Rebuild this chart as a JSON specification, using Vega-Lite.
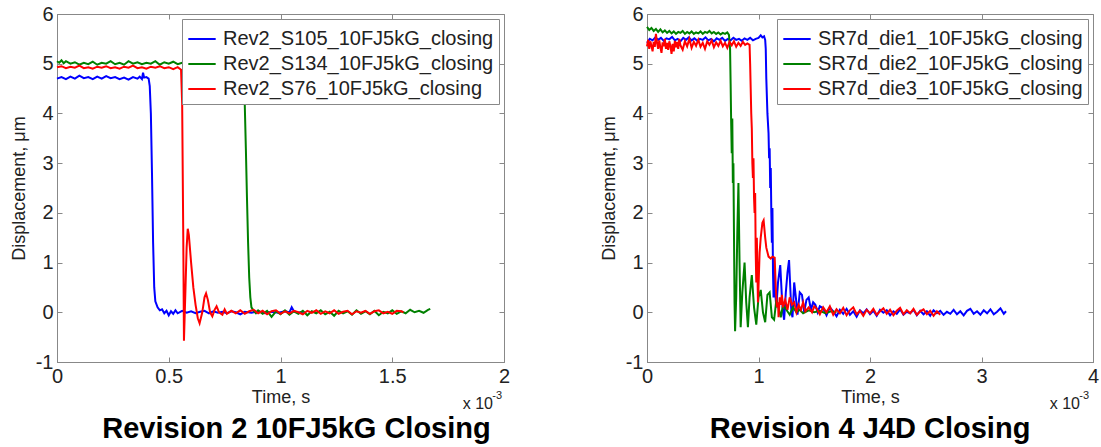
{
"$schema":"https://vega.github.io/schema/vega-lite/v6.json",
"background":"white",
"padding":{"left":9,"top":3,"right":5,"bottom":0},
"spacing":88,
"resolve":{"scale":{"color":"independent"},"legend":{"color":"independent"}},
"config":{
 "font":"Liberation Sans",
 "view":{"stroke":"#888","strokeWidth":1},
 "axis":{"grid":false,"domainColor":"#888","tickColor":"#888","tickSize":-5,"labelFontSize":20,"labelColor":"#222","labelFont":"Liberation Sans","titleFont":"Liberation Sans","titleFontSize":18,"titleFontWeight":"normal","titleColor":"#222","labelPadding":9,"labelFlush":false,"labelOverlap":false},
 "legend":{"orient":"top-right","offset":5,"strokeColor":"#888","fillColor":"white","padding":5,"symbolType":"stroke","symbolSize":750,"symbolStrokeWidth":2,"labelFontSize":20,"labelFont":"Liberation Sans","labelColor":"#222","rowPadding":0,"labelOffset":6,"cornerRadius":0,"labelLimit":400},
 "title":{"font":"Liberation Sans","fontSize":29,"fontWeight":"bold","color":"black"}
},
"hconcat":[
{
 "width":447,"height":348,
 "title":{"text":"Revision 2 10FJ5kG Closing","orient":"bottom","offset":3,"dx":16},
 "resolve":{"axis":{"x":"independent","y":"independent"}},
 "layer":[
  {"data":{"values":[
{"t":0,"v":4.70},{"t":0.02,"v":4.73},{"t":0.04,"v":4.69},{"t":0.06,"v":4.74},{"t":0.08,"v":4.70},{"t":0.10,"v":4.76},{"t":0.12,"v":4.71},{"t":0.14,"v":4.73},{"t":0.16,"v":4.69},{"t":0.18,"v":4.74},{"t":0.20,"v":4.70},{"t":0.22,"v":4.75},{"t":0.24,"v":4.71},{"t":0.26,"v":4.73},{"t":0.28,"v":4.69},{"t":0.30,"v":4.72},{"t":0.32,"v":4.68},{"t":0.34,"v":4.73},{"t":0.36,"v":4.70},{"t":0.37,"v":4.74},{"t":0.38,"v":4.69},{"t":0.385,"v":4.82},{"t":0.39,"v":4.72},{"t":0.40,"v":4.73},{"t":0.41,"v":4.70},{"t":0.415,"v":4.55},{"t":0.42,"v":4.0},{"t":0.425,"v":2.8},{"t":0.43,"v":1.4},{"t":0.435,"v":0.5},{"t":0.44,"v":0.22},{"t":0.45,"v":0.1},{"t":0.46,"v":0.04},{"t":0.47,"v":0.06},{"t":0.48,"v":-0.02},{"t":0.49,"v":0.03},{"t":0.50,"v":-0.06},{"t":0.51,"v":0.02},{"t":0.52,"v":-0.03},{"t":0.53,"v":0.04},{"t":0.54,"v":-0.02},{"t":0.56,"v":0.03},{"t":0.58,"v":-0.01},{"t":0.60,"v":0.02},{"t":0.62,"v":-0.02},{"t":0.64,"v":0.01},{"t":0.66,"v":0.03},{"t":0.68,"v":-0.02},{"t":0.70,"v":0.02},{"t":0.72,"v":-0.01},{"t":0.74,"v":0.01},{"t":0.76,"v":-0.02},{"t":0.78,"v":0.02},{"t":0.80,"v":0.0},{"t":0.82,"v":-0.04},{"t":0.84,"v":0.01},{"t":0.87,"v":-0.01},{"t":0.90,"v":0.02},{"t":0.93,"v":-0.02},{"t":0.96,"v":0.01},{"t":0.99,"v":-0.01},{"t":1.02,"v":0.02},{"t":1.04,"v":0.0},{"t":1.05,"v":0.1},{"t":1.06,"v":0.02},{"t":1.08,"v":-0.01},{"t":1.10,"v":0.01}
  ]},
  "mark":{"type":"line","strokeWidth":2},
  "encoding":{
   "x":{"field":"t","type":"quantitative","scale":{"domain":[0,2],"nice":false,"zero":false},"axis":{"orient":"bottom","values":[0,0.5,1,1.5,2],"title":"Time, s","labelExpr":"''+datum.value","titlePadding":2}},
   "y":{"field":"v","type":"quantitative","scale":{"domain":[-1,6],"nice":false,"zero":false},"axis":{"orient":"left","values":[-1,0,1,2,3,4,5,6],"title":"Displacement, μm","labelExpr":"''+datum.value","titlePadding":7}},
   "color":{"datum":"Rev2_S105_10FJ5kG_closing","type":"nominal","scale":{"domain":["Rev2_S105_10FJ5kG_closing","Rev2_S134_10FJ5kG_closing","Rev2_S76_10FJ5kG_closing"],"range":["#0000ff","#008000","#ff0000"]},"legend":{"title":null}}
  }},
  {"data":{"values":[
{"t":0,"v":5.05},{"t":0.01,"v":5.02},{"t":0.02,"v":5.07},{"t":0.03,"v":5.01},{"t":0.04,"v":5.05},{"t":0.06,"v":5.00},{"t":0.08,"v":5.03},{"t":0.10,"v":4.98},{"t":0.12,"v":5.02},{"t":0.14,"v":4.99},{"t":0.16,"v":5.04},{"t":0.18,"v":4.98},{"t":0.20,"v":5.02},{"t":0.22,"v":5.00},{"t":0.24,"v":5.05},{"t":0.26,"v":4.99},{"t":0.28,"v":5.02},{"t":0.30,"v":4.98},{"t":0.32,"v":5.05},{"t":0.34,"v":5.00},{"t":0.36,"v":5.03},{"t":0.38,"v":4.99},{"t":0.40,"v":5.02},{"t":0.42,"v":5.00},{"t":0.44,"v":5.05},{"t":0.46,"v":4.98},{"t":0.48,"v":5.03},{"t":0.50,"v":5.00},{"t":0.52,"v":5.04},{"t":0.54,"v":4.99},{"t":0.56,"v":5.02},{"t":0.60,"v":5.00},{"t":0.65,"v":5.02},{"t":0.70,"v":4.99},{"t":0.75,"v":5.01},{"t":0.80,"v":5.00},{"t":0.83,"v":4.98},{"t":0.835,"v":4.7},{"t":0.84,"v":4.2},{"t":0.845,"v":3.3},{"t":0.85,"v":2.3},{"t":0.855,"v":1.4},{"t":0.86,"v":0.7},{"t":0.865,"v":0.3},{"t":0.87,"v":0.1},{"t":0.88,"v":0.03},{"t":0.89,"v":-0.02},{"t":0.90,"v":0.04},{"t":0.92,"v":-0.03},{"t":0.94,"v":0.03},{"t":0.96,"v":-0.09},{"t":0.98,"v":0.02},{"t":1.00,"v":-0.04},{"t":1.02,"v":0.04},{"t":1.04,"v":-0.05},{"t":1.06,"v":0.02},{"t":1.08,"v":-0.03},{"t":1.10,"v":0.03},{"t":1.12,"v":-0.06},{"t":1.14,"v":0.02},{"t":1.16,"v":-0.02},{"t":1.18,"v":0.04},{"t":1.20,"v":-0.04},{"t":1.22,"v":0.01},{"t":1.24,"v":-0.07},{"t":1.26,"v":0.03},{"t":1.28,"v":-0.02},{"t":1.30,"v":0.02},{"t":1.32,"v":-0.05},{"t":1.34,"v":0.04},{"t":1.36,"v":-0.03},{"t":1.38,"v":0.02},{"t":1.40,"v":-0.04},{"t":1.42,"v":0.03},{"t":1.44,"v":-0.06},{"t":1.46,"v":0.01},{"t":1.48,"v":-0.02},{"t":1.50,"v":0.04},{"t":1.52,"v":-0.03},{"t":1.54,"v":0.02},{"t":1.56,"v":-0.02},{"t":1.58,"v":0.05},{"t":1.60,"v":0.0},{"t":1.62,"v":0.03},{"t":1.64,"v":-0.01},{"t":1.66,"v":0.05},{"t":1.67,"v":0.07}
  ]},
  "mark":{"type":"line","strokeWidth":2},
  "encoding":{
   "x":{"field":"t","type":"quantitative","axis":{"orient":"top","values":[0,0.5,1,1.5,2],"labels":false,"title":null,"domain":false}},
   "y":{"field":"v","type":"quantitative","axis":{"orient":"right","values":[-1,0,1,2,3,4,5,6],"labels":false,"title":null,"domain":false}},
   "color":{"datum":"Rev2_S134_10FJ5kG_closing","type":"nominal"}
  }},
  {"data":{"values":[
{"t":0,"v":4.93},{"t":0.02,"v":4.95},{"t":0.04,"v":4.91},{"t":0.06,"v":4.94},{"t":0.08,"v":4.92},{"t":0.10,"v":4.96},{"t":0.12,"v":4.91},{"t":0.14,"v":4.93},{"t":0.16,"v":4.90},{"t":0.18,"v":4.94},{"t":0.20,"v":4.92},{"t":0.22,"v":4.95},{"t":0.24,"v":4.91},{"t":0.26,"v":4.93},{"t":0.28,"v":4.90},{"t":0.30,"v":4.94},{"t":0.32,"v":4.92},{"t":0.34,"v":4.96},{"t":0.36,"v":4.91},{"t":0.38,"v":4.93},{"t":0.40,"v":4.90},{"t":0.42,"v":4.94},{"t":0.44,"v":4.92},{"t":0.46,"v":4.95},{"t":0.48,"v":4.91},{"t":0.50,"v":4.93},{"t":0.52,"v":4.89},{"t":0.54,"v":4.93},{"t":0.555,"v":4.88},{"t":0.56,"v":4.2},{"t":0.565,"v":1.5},{"t":0.568,"v":-0.57},{"t":0.575,"v":0.5},{"t":0.58,"v":1.3},{"t":0.585,"v":1.68},{"t":0.59,"v":1.55},{"t":0.60,"v":1.0},{"t":0.61,"v":0.5},{"t":0.62,"v":0.15},{"t":0.63,"v":-0.12},{"t":0.638,"v":-0.22},{"t":0.65,"v":0.0},{"t":0.66,"v":0.3},{"t":0.667,"v":0.38},{"t":0.675,"v":0.25},{"t":0.685,"v":0.0},{"t":0.695,"v":-0.08},{"t":0.705,"v":0.05},{"t":0.714,"v":0.12},{"t":0.725,"v":0.0},{"t":0.74,"v":-0.05},{"t":0.75,"v":0.06},{"t":0.76,"v":-0.03},{"t":0.78,"v":0.03},{"t":0.80,"v":-0.02},{"t":0.82,"v":0.04},{"t":0.84,"v":-0.03},{"t":0.86,"v":0.02},{"t":0.88,"v":0.05},{"t":0.90,"v":-0.02},{"t":0.92,"v":0.03},{"t":0.94,"v":-0.04},{"t":0.96,"v":0.02},{"t":0.98,"v":0.04},{"t":1.00,"v":-0.03},{"t":1.02,"v":0.02},{"t":1.04,"v":-0.02},{"t":1.06,"v":0.03},{"t":1.08,"v":0.0},{"t":1.10,"v":-0.04},{"t":1.12,"v":0.03},{"t":1.14,"v":-0.01},{"t":1.16,"v":0.04},{"t":1.18,"v":-0.03},{"t":1.20,"v":0.02},{"t":1.22,"v":-0.02},{"t":1.24,"v":0.04},{"t":1.26,"v":-0.03},{"t":1.28,"v":0.01},{"t":1.30,"v":0.03},{"t":1.32,"v":-0.04},{"t":1.34,"v":0.02},{"t":1.36,"v":-0.01},{"t":1.38,"v":0.03},{"t":1.40,"v":-0.03},{"t":1.42,"v":0.02},{"t":1.44,"v":0.04},{"t":1.46,"v":-0.02},{"t":1.48,"v":0.01},{"t":1.50,"v":-0.03},{"t":1.52,"v":0.03},{"t":1.54,"v":0.02},{"t":1.55,"v":0.0}
  ]},
  "mark":{"type":"line","strokeWidth":2},
  "encoding":{
   "x":{"field":"t","type":"quantitative","axis":null},
   "y":{"field":"v","type":"quantitative","axis":null},
   "color":{"datum":"Rev2_S76_10FJ5kG_closing","type":"nominal"}
  }},
  {"data":{"values":[{}]},
   "mark":{"type":"text","text":"x 10","align":"right","baseline":"middle","dx":-11,"dy":42,"fontSize":16,"color":"#222"},
   "encoding":{"x":{"datum":2,"type":"quantitative","axis":null},"y":{"datum":-1,"type":"quantitative","axis":null}}},
  {"data":{"values":[{}]},
   "mark":{"type":"text","text":"-3","align":"right","baseline":"middle","dx":-2,"dy":34,"fontSize":11,"color":"#222"},
   "encoding":{"x":{"datum":2,"type":"quantitative","axis":null},"y":{"datum":-1,"type":"quantitative","axis":null}}}
 ]
},
{
 "width":446,"height":348,
 "title":{"text":"Revision 4 J4D Closing","orient":"bottom","offset":3},
 "resolve":{"axis":{"x":"independent","y":"independent"}},
 "layer":[
  {"data":{"values":[
{"t":0,"v":5.42},{"t":0.025,"v":5.5},{"t":0.05,"v":5.47},{"t":0.075,"v":5.53},{"t":0.1,"v":5.48},{"t":0.125,"v":5.52},{"t":0.15,"v":5.46},{"t":0.175,"v":5.51},{"t":0.2,"v":5.49},{"t":0.225,"v":5.54},{"t":0.25,"v":5.47},{"t":0.275,"v":5.5},{"t":0.3,"v":5.45},{"t":0.325,"v":5.52},{"t":0.35,"v":5.48},{"t":0.375,"v":5.53},{"t":0.4,"v":5.47},{"t":0.425,"v":5.51},{"t":0.45,"v":5.46},{"t":0.475,"v":5.5},{"t":0.5,"v":5.48},{"t":0.525,"v":5.53},{"t":0.55,"v":5.47},{"t":0.575,"v":5.5},{"t":0.6,"v":5.45},{"t":0.625,"v":5.51},{"t":0.65,"v":5.48},{"t":0.675,"v":5.52},{"t":0.7,"v":5.46},{"t":0.725,"v":5.5},{"t":0.75,"v":5.47},{"t":0.775,"v":5.52},{"t":0.8,"v":5.48},{"t":0.825,"v":5.5},{"t":0.85,"v":5.46},{"t":0.875,"v":5.51},{"t":0.9,"v":5.48},{"t":0.925,"v":5.52},{"t":0.95,"v":5.47},{"t":0.975,"v":5.5},{"t":1.0,"v":5.52},{"t":1.02,"v":5.57},{"t":1.035,"v":5.53},{"t":1.05,"v":5.55},{"t":1.06,"v":5.48},{"t":1.065,"v":5.3},{"t":1.07,"v":4.7},{"t":1.08,"v":4.0},{"t":1.09,"v":3.6},{"t":1.095,"v":3.1},{"t":1.10,"v":3.3},{"t":1.105,"v":2.5},{"t":1.11,"v":2.9},{"t":1.115,"v":2.0},{"t":1.12,"v":1.4},{"t":1.125,"v":2.1},{"t":1.13,"v":0.8},{"t":1.135,"v":0.3},{"t":1.14,"v":1.1},{"t":1.15,"v":0.4},{"t":1.16,"v":0.1},{"t":1.175,"v":0.6},{"t":1.195,"v":0.95},{"t":1.21,"v":0.3},{"t":1.22,"v":0.0},{"t":1.23,"v":-0.15},{"t":1.245,"v":0.4},{"t":1.26,"v":0.8},{"t":1.274,"v":1.05},{"t":1.285,"v":0.5},{"t":1.295,"v":0.0},{"t":1.305,"v":-0.1},{"t":1.32,"v":0.6},{"t":1.335,"v":0.3},{"t":1.35,"v":-0.05},{"t":1.37,"v":0.4},{"t":1.39,"v":0.35},{"t":1.41,"v":0.0},{"t":1.43,"v":0.25},{"t":1.45,"v":0.3},{"t":1.47,"v":0.05},{"t":1.49,"v":0.2},{"t":1.51,"v":0.15},{"t":1.53,"v":0.0},{"t":1.55,"v":0.12},{"t":1.58,"v":0.08},{"t":1.61,"v":-0.06},{"t":1.64,"v":0.1},{"t":1.67,"v":0.02},{"t":1.70,"v":-0.08},{"t":1.73,"v":0.05},{"t":1.76,"v":-0.03},{"t":1.79,"v":0.07},{"t":1.82,"v":-0.05},{"t":1.85,"v":0.02},{"t":1.88,"v":-0.09},{"t":1.91,"v":0.04},{"t":1.94,"v":-0.02},{"t":1.97,"v":0.06},{"t":2.00,"v":-0.04},{"t":2.03,"v":0.03},{"t":2.06,"v":-0.07},{"t":2.09,"v":0.05},{"t":2.12,"v":-0.01},{"t":2.15,"v":0.04},{"t":2.18,"v":-0.06},{"t":2.21,"v":0.02},{"t":2.24,"v":-0.03},{"t":2.27,"v":0.06},{"t":2.30,"v":-0.05},{"t":2.33,"v":0.01},{"t":2.36,"v":-0.02},{"t":2.39,"v":0.05},{"t":2.42,"v":-0.06},{"t":2.45,"v":0.03},{"t":2.48,"v":-0.04},{"t":2.51,"v":0.02},{"t":2.54,"v":-0.07},{"t":2.57,"v":0.04},{"t":2.60,"v":-0.02},{"t":2.63,"v":0.03},{"t":2.66,"v":-0.05},{"t":2.69,"v":0.01},{"t":2.72,"v":-0.03},{"t":2.75,"v":0.05},{"t":2.78,"v":-0.04},{"t":2.81,"v":0.02},{"t":2.84,"v":-0.06},{"t":2.87,"v":0.03},{"t":2.90,"v":0.07},{"t":2.93,"v":-0.03},{"t":2.96,"v":0.02},{"t":2.99,"v":-0.05},{"t":3.02,"v":0.04},{"t":3.05,"v":-0.02},{"t":3.08,"v":0.06},{"t":3.11,"v":-0.04},{"t":3.14,"v":0.01},{"t":3.17,"v":0.08},{"t":3.20,"v":-0.03},{"t":3.22,"v":0.02}
  ]},
  "mark":{"type":"line","strokeWidth":2},
  "encoding":{
   "x":{"field":"t","type":"quantitative","scale":{"domain":[0,4],"nice":false,"zero":false},"axis":{"orient":"bottom","values":[0,1,2,3,4],"title":"Time, s","labelExpr":"''+datum.value","titlePadding":2}},
   "y":{"field":"v","type":"quantitative","scale":{"domain":[-1,6],"nice":false,"zero":false},"axis":{"orient":"left","values":[-1,0,1,2,3,4,5,6],"title":"Displacement, μm","labelExpr":"''+datum.value","titlePadding":7}},
   "color":{"datum":"SR7d_die1_10FJ5kG_closing","type":"nominal","scale":{"domain":["SR7d_die1_10FJ5kG_closing","SR7d_die2_10FJ5kG_closing","SR7d_die3_10FJ5kG_closing"],"range":["#0000ff","#008000","#ff0000"]},"legend":{"title":null}}
  }},
  {"data":{"values":[
{"t":0,"v":5.74},{"t":0.02,"v":5.68},{"t":0.04,"v":5.72},{"t":0.06,"v":5.66},{"t":0.08,"v":5.7},{"t":0.1,"v":5.64},{"t":0.12,"v":5.69},{"t":0.14,"v":5.63},{"t":0.16,"v":5.67},{"t":0.18,"v":5.62},{"t":0.2,"v":5.66},{"t":0.22,"v":5.61},{"t":0.24,"v":5.65},{"t":0.26,"v":5.6},{"t":0.28,"v":5.64},{"t":0.3,"v":5.62},{"t":0.32,"v":5.66},{"t":0.34,"v":5.6},{"t":0.36,"v":5.64},{"t":0.38,"v":5.61},{"t":0.4,"v":5.65},{"t":0.42,"v":5.6},{"t":0.44,"v":5.63},{"t":0.46,"v":5.61},{"t":0.48,"v":5.65},{"t":0.5,"v":5.6},{"t":0.52,"v":5.64},{"t":0.54,"v":5.62},{"t":0.56,"v":5.66},{"t":0.58,"v":5.61},{"t":0.6,"v":5.64},{"t":0.62,"v":5.6},{"t":0.64,"v":5.63},{"t":0.66,"v":5.59},{"t":0.68,"v":5.62},{"t":0.7,"v":5.6},{"t":0.72,"v":5.63},{"t":0.735,"v":5.58},{"t":0.745,"v":5.3},{"t":0.75,"v":4.6},{"t":0.755,"v":3.8},{"t":0.76,"v":3.2},{"t":0.765,"v":3.9},{"t":0.77,"v":2.6},{"t":0.775,"v":3.0},{"t":0.78,"v":1.6},{"t":0.785,"v":0.2},{"t":0.79,"v":-0.38},{"t":0.80,"v":0.3},{"t":0.81,"v":1.6},{"t":0.82,"v":2.6},{"t":0.83,"v":1.0},{"t":0.84,"v":-0.3},{"t":0.855,"v":0.4},{"t":0.875,"v":1.0},{"t":0.89,"v":0.2},{"t":0.905,"v":-0.3},{"t":0.92,"v":0.3},{"t":0.94,"v":0.75},{"t":0.96,"v":0.1},{"t":0.98,"v":-0.25},{"t":1.0,"v":0.3},{"t":1.02,"v":0.45},{"t":1.04,"v":0.0},{"t":1.06,"v":-0.2},{"t":1.08,"v":0.35},{"t":1.10,"v":0.4},{"t":1.12,"v":-0.1},{"t":1.14,"v":-0.15},{"t":1.16,"v":0.25},{"t":1.18,"v":0.1},{"t":1.20,"v":-0.1},{"t":1.22,"v":0.15},{"t":1.25,"v":0.05},{"t":1.28,"v":-0.05},{"t":1.31,"v":0.1},{"t":1.34,"v":0.0},{"t":1.37,"v":0.05},{"t":1.40,"v":-0.02},{"t":1.45,"v":0.04},{"t":1.5,"v":0.0},{"t":1.55,"v":0.03},{"t":1.6,"v":-0.02},{"t":1.65,"v":0.02},{"t":1.7,"v":0.0}
  ]},
  "mark":{"type":"line","strokeWidth":2},
  "encoding":{
   "x":{"field":"t","type":"quantitative","axis":{"orient":"top","values":[0,1,2,3,4],"labels":false,"title":null,"domain":false}},
   "y":{"field":"v","type":"quantitative","axis":{"orient":"right","values":[-1,0,1,2,3,4,5,6],"labels":false,"title":null,"domain":false}},
   "color":{"datum":"SR7d_die2_10FJ5kG_closing","type":"nominal"}
  }},
  {"data":{"values":[
{"t":0,"v":5.35},{"t":0.01,"v":5.48},{"t":0.02,"v":5.3},{"t":0.03,"v":5.45},{"t":0.04,"v":5.36},{"t":0.05,"v":5.25},{"t":0.06,"v":5.44},{"t":0.07,"v":5.34},{"t":0.08,"v":5.6},{"t":0.09,"v":5.42},{"t":0.1,"v":5.3},{"t":0.11,"v":5.47},{"t":0.12,"v":5.33},{"t":0.13,"v":5.22},{"t":0.14,"v":5.43},{"t":0.15,"v":5.35},{"t":0.16,"v":5.5},{"t":0.17,"v":5.3},{"t":0.18,"v":5.42},{"t":0.19,"v":5.28},{"t":0.2,"v":5.45},{"t":0.21,"v":5.36},{"t":0.22,"v":5.2},{"t":0.23,"v":5.4},{"t":0.24,"v":5.25},{"t":0.25,"v":5.46},{"t":0.26,"v":5.33},{"t":0.27,"v":5.44},{"t":0.28,"v":5.3},{"t":0.29,"v":5.5},{"t":0.3,"v":5.37},{"t":0.32,"v":5.28},{"t":0.34,"v":5.45},{"t":0.36,"v":5.35},{"t":0.38,"v":5.5},{"t":0.4,"v":5.32},{"t":0.42,"v":5.44},{"t":0.44,"v":5.36},{"t":0.46,"v":5.48},{"t":0.48,"v":5.34},{"t":0.5,"v":5.42},{"t":0.52,"v":5.3},{"t":0.54,"v":5.45},{"t":0.56,"v":5.38},{"t":0.58,"v":5.47},{"t":0.6,"v":5.33},{"t":0.62,"v":5.43},{"t":0.64,"v":5.36},{"t":0.66,"v":5.46},{"t":0.68,"v":5.35},{"t":0.7,"v":5.42},{"t":0.72,"v":5.32},{"t":0.74,"v":5.44},{"t":0.76,"v":5.37},{"t":0.78,"v":5.45},{"t":0.8,"v":5.34},{"t":0.82,"v":5.42},{"t":0.84,"v":5.36},{"t":0.86,"v":5.44},{"t":0.88,"v":5.38},{"t":0.9,"v":5.41},{"t":0.92,"v":5.38},{"t":0.925,"v":5.0},{"t":0.93,"v":4.5},{"t":0.935,"v":4.0},{"t":0.94,"v":3.7},{"t":0.945,"v":3.0},{"t":0.95,"v":2.7},{"t":0.955,"v":3.1},{"t":0.96,"v":2.3},{"t":0.965,"v":2.0},{"t":0.97,"v":2.4},{"t":0.975,"v":1.2},{"t":0.98,"v":0.6},{"t":0.985,"v":1.5},{"t":0.99,"v":0.9},{"t":0.995,"v":0.2},{"t":1.0,"v":0.5},{"t":1.01,"v":1.2},{"t":1.02,"v":1.5},{"t":1.035,"v":1.8},{"t":1.046,"v":1.85},{"t":1.06,"v":1.5},{"t":1.07,"v":1.3},{"t":1.09,"v":1.12},{"t":1.11,"v":1.08},{"t":1.125,"v":1.12},{"t":1.145,"v":1.1},{"t":1.155,"v":0.5},{"t":1.165,"v":0.1},{"t":1.175,"v":0.2},{"t":1.18,"v":-0.1},{"t":1.19,"v":0.3},{"t":1.20,"v":0.15},{"t":1.21,"v":0.35},{"t":1.22,"v":0.1},{"t":1.24,"v":0.25},{"t":1.26,"v":0.05},{"t":1.28,"v":0.3},{"t":1.30,"v":0.15},{"t":1.32,"v":0.2},{"t":1.34,"v":0.0},{"t":1.36,"v":0.15},{"t":1.38,"v":0.05},{"t":1.40,"v":0.2},{"t":1.42,"v":0.02},{"t":1.45,"v":0.1},{"t":1.48,"v":0.0},{"t":1.5,"v":0.12},{"t":1.52,"v":0.08},{"t":1.55,"v":-0.04},{"t":1.58,"v":0.1},{"t":1.61,"v":0.0},{"t":1.64,"v":0.12},{"t":1.67,"v":-0.05},{"t":1.70,"v":0.06},{"t":1.73,"v":-0.02},{"t":1.76,"v":0.09},{"t":1.79,"v":-0.06},{"t":1.82,"v":0.04},{"t":1.85,"v":0.1},{"t":1.88,"v":-0.04},{"t":1.91,"v":0.03},{"t":1.94,"v":-0.07},{"t":1.97,"v":0.05},{"t":2.00,"v":-0.02},{"t":2.03,"v":0.07},{"t":2.06,"v":-0.05},{"t":2.09,"v":0.02},{"t":2.12,"v":0.08},{"t":2.15,"v":-0.03},{"t":2.18,"v":0.05},{"t":2.21,"v":-0.06},{"t":2.24,"v":0.03},{"t":2.27,"v":0.09},{"t":2.30,"v":-0.04},{"t":2.33,"v":0.04},{"t":2.36,"v":-0.02},{"t":2.39,"v":0.07},{"t":2.42,"v":-0.05},{"t":2.45,"v":0.02},{"t":2.48,"v":0.06},{"t":2.51,"v":-0.04},{"t":2.54,"v":0.03},{"t":2.57,"v":-0.07},{"t":2.60,"v":0.02},{"t":2.63,"v":-0.05}
  ]},
  "mark":{"type":"line","strokeWidth":2},
  "encoding":{
   "x":{"field":"t","type":"quantitative","axis":null},
   "y":{"field":"v","type":"quantitative","axis":null},
   "color":{"datum":"SR7d_die3_10FJ5kG_closing","type":"nominal"}
  }},
  {"data":{"values":[{}]},
   "mark":{"type":"text","text":"x 10","align":"right","baseline":"middle","dx":-13,"dy":42,"fontSize":16,"color":"#222"},
   "encoding":{"x":{"datum":4,"type":"quantitative","axis":null},"y":{"datum":-1,"type":"quantitative","axis":null}}},
  {"data":{"values":[{}]},
   "mark":{"type":"text","text":"-3","align":"right","baseline":"middle","dx":-4,"dy":34,"fontSize":11,"color":"#222"},
   "encoding":{"x":{"datum":4,"type":"quantitative","axis":null},"y":{"datum":-1,"type":"quantitative","axis":null}}}
 ]
}
]
}
